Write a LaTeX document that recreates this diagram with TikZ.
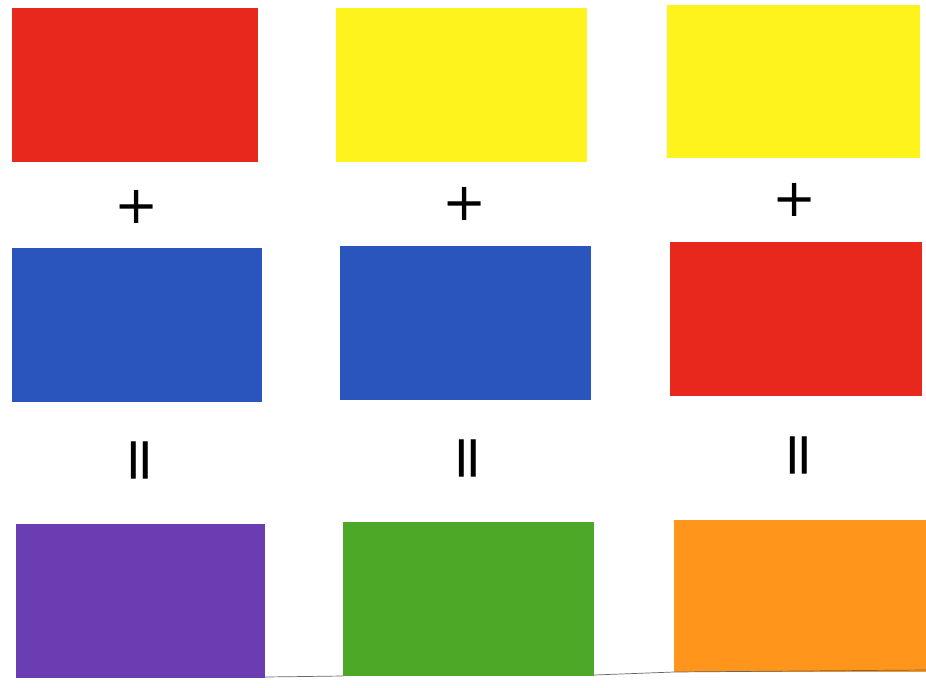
\documentclass[tikz,border=0pt]{standalone}
\usepackage{fontspec}
\setsansfont{DejaVu Sans}
\definecolor{cred}{HTML}{E8281C}
\definecolor{cyellow}{HTML}{FFF31E}
\definecolor{cblue}{HTML}{2A55BC}
\definecolor{cpurple}{HTML}{6B3DB2}
\definecolor{cgreen}{HTML}{4CA826}
\definecolor{corange}{HTML}{FF951A}
\begin{document}
\begin{tikzpicture}[x=0.02cm,y=-0.02cm,
  opsign/.style={font=\sffamily\fontsize{30}{30}\selectfont,inner sep=0pt},
  eqsign/.style={font=\sffamily\fontsize{34}{34}\selectfont,inner sep=0pt,rotate=90}]
\useasboundingbox[fill=white] (0,0) rectangle (926,687);
% row 1
\fill[cred] (12,8) rectangle (258,162);
\fill[cyellow] (336,8) rectangle (587,162);
\fill[cyellow] (667,5) rectangle (920,158);
% row 2
\fill[cblue] (12,248) rectangle (262,402);
\fill[cblue] (340,246) rectangle (591,400);
\fill[cred] (670,242) rectangle (922,396);
% row 3
\fill[cpurple] (16,524) rectangle (265,678);
\fill[cgreen] (343,522) rectangle (594,676);
\fill[corange] (674,520) rectangle (926,672);
\draw[black!60,line width=0.4pt] (265,677) -- (343,676) (594,675) -- (674,672) -- (926,670);
% plus signs
\node[opsign] (p1) at (137,207) {+};
\node[opsign] (p2) at (465,204) {+};
\node[opsign] (p3) at (795,200) {+};
% equals signs (rotated)
\node[eqsign] (e1) at (145,460) {=};
\node[eqsign] (e2) at (473,458) {=};
\node[eqsign] (e3) at (804,455) {=};
\end{tikzpicture}
\end{document}
